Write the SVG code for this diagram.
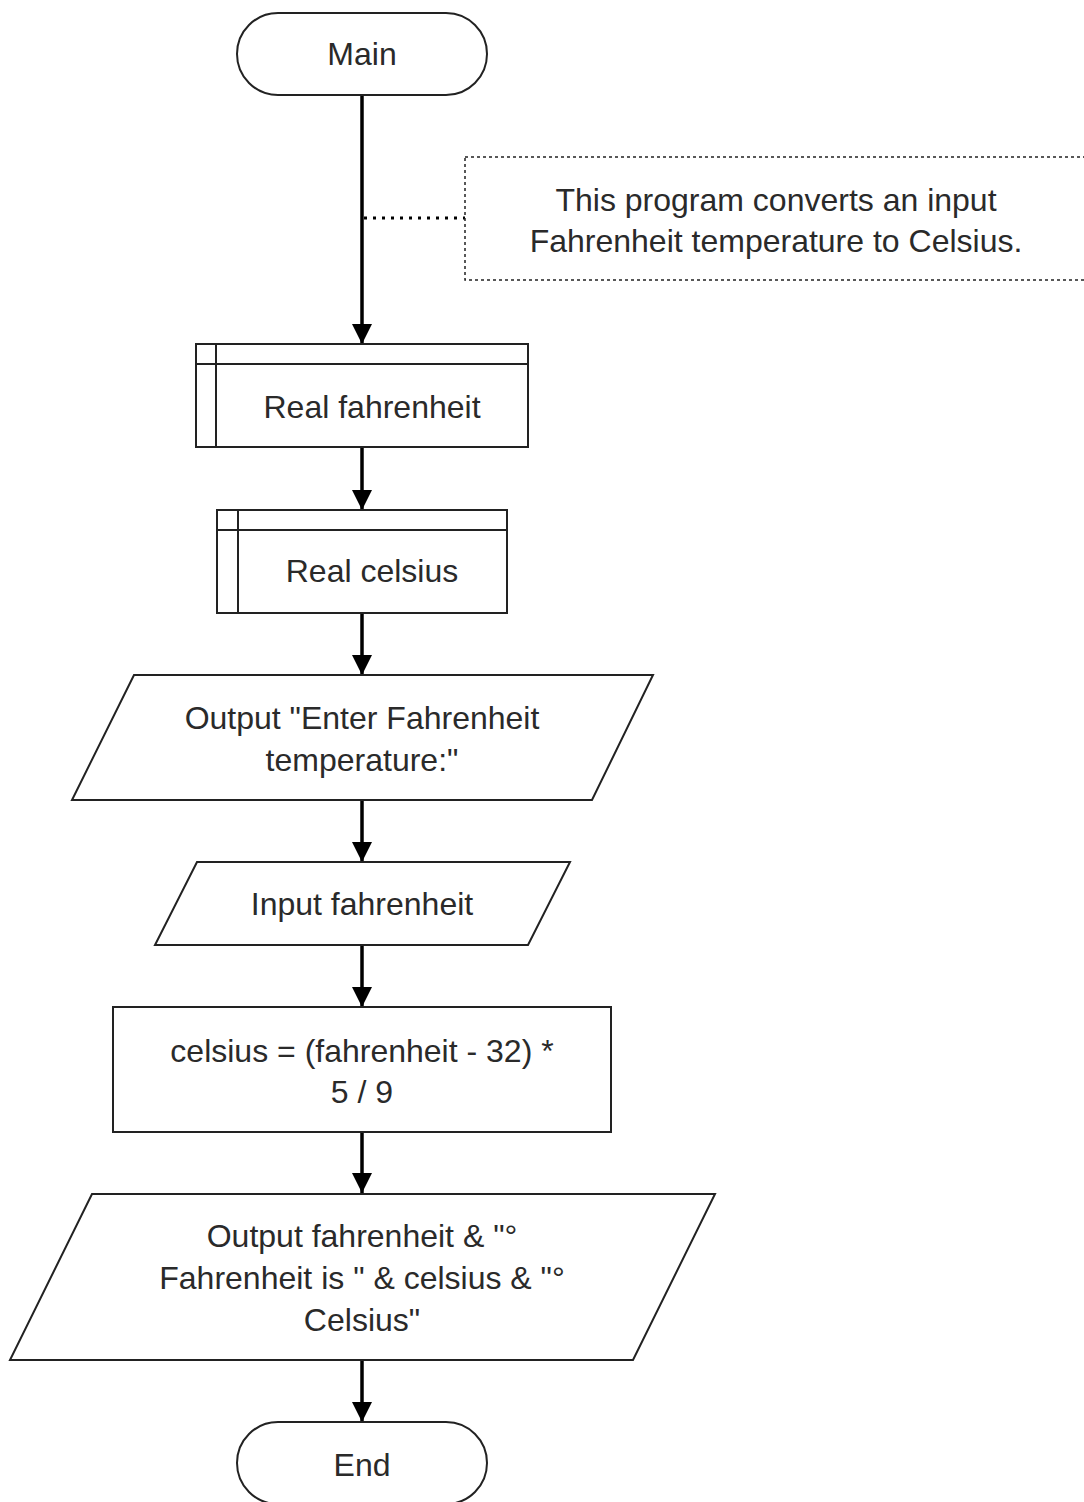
<svg xmlns="http://www.w3.org/2000/svg" width="1084" height="1502" viewBox="0 0 1084 1502">
<defs>
<style>
.s{fill:#fff;stroke:#222;stroke-width:2}
.t{font-family:"Liberation Sans",Arial,sans-serif;font-size:32px;fill:#2a2a2a;text-anchor:middle}
.c{stroke:#000;stroke-width:3.5;fill:none}
</style>
<marker id="ah" viewBox="0 0 20 20" refX="20" refY="10" markerWidth="20" markerHeight="20" markerUnits="userSpaceOnUse" orient="auto">
<path d="M0,0 L20,10 L0,20 z" fill="#000"/>
</marker>
</defs>
<rect width="1084" height="1502" fill="#fff"/>
<g id="connectors">
<line class="c" x1="362" y1="95" x2="362" y2="344" marker-end="url(#ah)"/>
<line class="c" x1="362" y1="447" x2="362" y2="510" marker-end="url(#ah)"/>
<line class="c" x1="362" y1="613" x2="362" y2="675" marker-end="url(#ah)"/>
<line class="c" x1="362" y1="800" x2="362" y2="862" marker-end="url(#ah)"/>
<line class="c" x1="362" y1="945" x2="362" y2="1007" marker-end="url(#ah)"/>
<line class="c" x1="362" y1="1132" x2="362" y2="1193" marker-end="url(#ah)"/>
<line class="c" x1="362" y1="1360" x2="362" y2="1422" marker-end="url(#ah)"/>
<line x1="364" y1="218" x2="465" y2="218" stroke="#000" stroke-width="3" stroke-dasharray="3,6"/>
</g>
<g id="main">
<rect class="s" x="237" y="13" width="250" height="82" rx="41" ry="41"/>
<text class="t" x="362" y="65">Main</text>
</g>
<g id="comment">
<rect x="465" y="157" width="650" height="123" fill="#fff" stroke="#222" stroke-width="1.5" stroke-dasharray="3,3"/>
<text class="t" x="776" y="211">This program converts an input</text>
<text class="t" x="776" y="252">Fahrenheit temperature to Celsius.</text>
</g>
<g id="declare-fahrenheit">
<rect class="s" x="196" y="344" width="332" height="103"/>
<line class="s" x1="216" y1="344" x2="216" y2="447"/>
<line class="s" x1="196" y1="364" x2="528" y2="364"/>
<text class="t" x="372" y="418">Real fahrenheit</text>
</g>
<g id="declare-celsius">
<rect class="s" x="217" y="510" width="290" height="103"/>
<line class="s" x1="238" y1="510" x2="238" y2="613"/>
<line class="s" x1="217" y1="530" x2="507" y2="530"/>
<text class="t" x="372" y="582">Real celsius</text>
</g>
<g id="output-prompt">
<polygon class="s" points="134,675 653,675 592,800 72,800"/>
<text class="t" x="362" y="729">Output "Enter Fahrenheit</text>
<text class="t" x="362" y="771">temperature:"</text>
</g>
<g id="input-fahrenheit">
<polygon class="s" points="197,862 570,862 528,945 155,945"/>
<text class="t" x="362" y="915">Input fahrenheit</text>
</g>
<g id="assign-celsius">
<rect class="s" x="113" y="1007" width="498" height="125"/>
<text class="t" x="362" y="1062">celsius = (fahrenheit - 32) *</text>
<text class="t" x="362" y="1103">5 / 9</text>
</g>
<g id="output-result">
<polygon class="s" points="92,1194 715,1194 633,1360 10,1360"/>
<text class="t" x="362" y="1247">Output fahrenheit &amp; "°</text>
<text class="t" x="362" y="1289">Fahrenheit is " &amp; celsius &amp; "°</text>
<text class="t" x="362" y="1331">Celsius"</text>
</g>
<g id="end">
<rect class="s" x="237" y="1422" width="250" height="82" rx="41" ry="41"/>
<text class="t" x="362" y="1476">End</text>
</g>
</svg>
